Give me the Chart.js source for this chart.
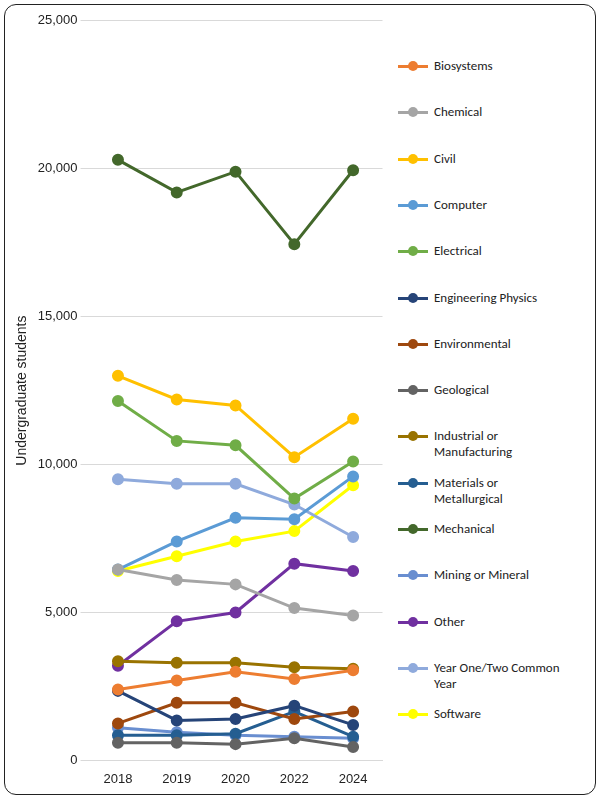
<!DOCTYPE html><html><head><script src="https://cdn.jsdelivr.net/npm/chart.js@4"></script>
<style>body{margin:0;background:#fff;font-family:Calibri,Carlito,"Liberation Sans",sans-serif}
#frame{position:absolute;left:4px;top:4px;width:590px;height:789px;border:1.5px solid #222;border-radius:12px}
#wrap{position:absolute;left:10px;top:10px;width:380px;height:780px}
#leg{position:absolute;left:398px;top:59px;font-size:13px;color:#222}
.it{position:absolute;left:0;width:200px;display:flex;align-items:flex-start}
.sw{position:relative;width:30px;height:14px;flex:none;margin-right:6px}
.sw i{position:absolute;left:0;top:6px;width:30px;height:3px}
.sw b{position:absolute;left:10px;top:2px;width:10px;height:10px;border-radius:50%}
</style></head><body><div id="frame"></div><div id="wrap"><canvas id="c"></canvas></div><div id="leg"></div>
<script>
const years=["2018","2019","2020","2022","2024"];
const names=["Biosystems","Chemical","Civil","Computer","Electrical","Engineering Physics","Environmental","Geological","Industrial or Manufacturing","Materials or Metallurgical","Mechanical","Mining or Mineral","Other","Year One/Two Common Year","Software"];
const legendLines=[["Biosystems"],["Chemical"],["Civil"],["Computer"],["Electrical"],["Engineering Physics"],["Environmental"],["Geological"],["Industrial or","Manufacturing"],["Materials or","Metallurgical"],["Mechanical"],["Mining or Mineral"],["Other"],["Year One/Two Common","Year"],["Software"]];
const colors=["#ED7D31","#A5A5A5","#FFC000","#5B9BD5","#70AD47","#264478","#9E480E","#636363","#997300","#255E91","#43682B","#698ED0","#7030A0","#8FAADC","#FFFF00"];
const biosystems=[2400,2700,3000,2750,3050];
const chemical=[6450,6100,5950,5150,4900];
const civil=[13000,12200,12000,10250,11550];
const computer=[6450,7400,8200,8150,9600];
const electrical=[12150,10800,10650,8850,10100];
const engPhysics=[2350,1350,1400,1850,1200];
const environmental=[1250,1950,1950,1400,1650];
const geological=[600,600,550,750,450];
const industrial=[3350,3300,3300,3150,3100];
const materials=[850,850,900,1650,800];
const mechanical=[20300,19200,19900,17450,19950];
const mining=[1100,950,850,800,750];
const other=[3200,4700,5000,6650,6400];
const yearOne=[9500,9350,9350,8650,7550];
const software=[6400,6900,7400,7750,9300];
const series=[biosystems,chemical,civil,computer,electrical,engPhysics,environmental,geological,industrial,materials,mechanical,mining,other,yearOne,software];
new Chart(document.getElementById('c'),{type:'line',data:{labels:years,datasets:series.map((d,i)=>({label:names[i],data:d,borderColor:colors[i],backgroundColor:colors[i],borderWidth:3,pointRadius:4.5,pointHoverRadius:4.5,tension:0}))},
options:{responsive:true,maintainAspectRatio:false,animation:false,layout:{padding:{top:4,right:0,bottom:0}},
plugins:{legend:{display:false},tooltip:{enabled:false}},
scales:{x:{offset:true,grid:{display:false},border:{color:'#d9d9d9'},ticks:{color:'#222',font:{size:13}}},
y:{min:0,max:25000,ticks:{stepSize:5000,color:'#222',font:{size:13},callback:v=>v.toLocaleString('en-US')},grid:{color:'#d9d9d9'},border:{display:false},
title:{display:true,text:'Undergraduate students',color:'#222',font:{size:14}}}}}});
const leg=document.getElementById('leg');
legendLines.forEach((l,i)=>{const d=document.createElement('div');d.className='it';d.style.top=(i*46.3)+'px';
d.innerHTML='<span class="sw"><i style="background:'+colors[i]+'"></i><b style="background:'+colors[i]+'"></b></span><span style="line-height:16px;margin-top:-1px">'+l.join('<br>')+'</span>';leg.appendChild(d);});
</script></body></html>
